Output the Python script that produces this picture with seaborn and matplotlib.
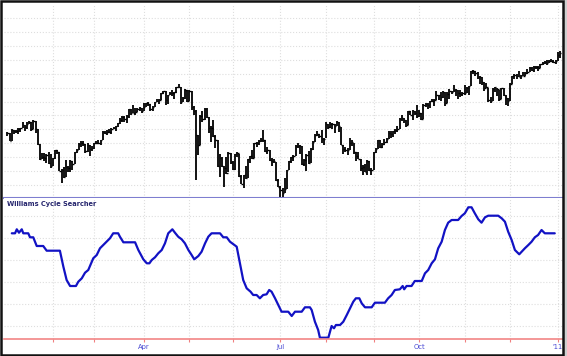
import pandas as pd
import numpy as np
import matplotlib
matplotlib.use("Agg")
import matplotlib.pyplot as plt
import seaborn as sns
from matplotlib.patches import Rectangle

sns.set_theme(style="white")
plt.rcParams['font.family'] = 'DejaVu Sans'

# trading calendar (NYSE holidays)
holidays = ['2010-01-01', '2010-01-18', '2010-02-15', '2010-04-02', '2010-05-31',
            '2010-07-05', '2010-09-06', '2010-11-25', '2010-12-24']
dates = pd.bdate_range('2009-12-30', '2011-01-04', freq='C', holidays=holidays)

high = [10560, 10550,
        # Jan
        10604, 10590, 10595, 10615, 10625, 10700, 10665, 10700, 10725, 10710, 10730, 10725, 10610, 10390, 10260, 10260, 10250, 10270, 10240,
        # Feb
        10190, 10310, 10300, 10270, 10030, 10060, 10160, 10080, 10160, 10140, 10275, 10320, 10400, 10430, 10430, 10390, 10400, 10370, 10360,
        # Mar
        10410, 10430, 10440, 10450, 10570, 10580, 10590, 10600, 10615, 10640, 10650, 10690, 10760, 10785, 10785, 10800, 10890, 10890, 10950, 10900, 10910, 10920, 10910,
        # Apr
        10975, 10980, 10990, 10970, 10940, 11000, 11030, 11030, 11125, 11150, 11150, 11100, 11130, 11160, 11140, 11210, 11258, 11210, 11070, 11180, 11170,
        # May
        11160, 11150, 10930, 10880, 10520, 10800, 10860, 10900, 10900, 10780, 10650, 10730, 10520, 10440, 10240, 10200, 10070, 10200, 10270, 10260,
        # Jun
        10140, 10250, 10280, 10250, 9950, 9950, 10070, 10180, 10215, 10300, 10410, 10420, 10450, 10470, 10590, 10450, 10340, 10300, 10190, 10180, 10130, 9890,
        # Jul
        9790, 9760, 9900, 10020, 10150, 10200, 10230, 10380, 10400, 10370, 10360, 10170, 10240, 10290, 10330, 10430, 10530, 10580, 10540, 10590, 10470,
        # Aug
        10700, 10680, 10700, 10690, 10680, 10720, 10700, 10640, 10380, 10340, 10330, 10470, 10450, 10410, 10270, 10280, 10170, 10090, 10100, 10160, 10150, 10050,
        # Sep
        10280, 10330, 10450, 10440, 10410, 10460, 10470, 10570, 10570, 10580, 10600, 10650, 10770, 10810, 10770, 10740, 10870, 10860, 10880, 10870, 10950,
        # Oct
        10880, 10830, 10960, 10980, 10980, 11010, 11030, 11040, 11150, 11100, 11130, 11150, 11140, 11130, 11180, 11150, 11240, 11180, 11170, 11160, 11130,
        # Nov
        11240, 11210, 11220, 11440, 11450, 11440, 11430, 11370, 11350, 11280, 11270, 11200, 11070, 11190, 11210, 11200, 11170, 11200, 11190, 11100, 11050,
        # Dec
        11270, 11370, 11390, 11390, 11440, 11380, 11420, 11420, 11460, 11500, 11500, 11510, 11510, 11510, 11540, 11570, 11580, 11590, 11590, 11610, 11590, 11590,
        # Jan '11
        11710, 11730]

low = [10500, 10428,
       10430, 10540, 10550, 10530, 10555, 10620, 10570, 10600, 10670, 10570, 10600, 10550, 10370, 10160, 10170, 10150, 10110, 10100, 10040,
       10070, 10180, 10240, 10000, 9835, 9900, 9910, 9980, 9990, 10010, 10100, 10260, 10300, 10350, 10360, 10260, 10280, 10210, 10290,
       10320, 10395, 10390, 10380, 10440, 10540, 10520, 10550, 10530, 10600, 10580, 10640, 10680, 10700, 10710, 10690, 10770, 10810, 10830, 10810, 10850, 10860, 10840,
       10860, 10920, 10930, 10860, 10860, 10920, 10990, 10970, 11020, 11110, 10950, 10970, 11090, 11080, 11040, 11120, 11190, 10970, 10990, 11040, 11000,
       11010, 10880, 10810, 9870, 10230, 10380, 10700, 10740, 10770, 10550, 10420, 10490, 10330, 10060, 9920, 10060, 9770, 9960, 9980, 10100,
       10010, 10020, 10200, 9920, 9810, 9760, 9880, 9900, 10110, 10180, 10190, 10350, 10380, 10420, 10420, 10280, 10250, 10140, 10080, 10110, 9860, 9770,
       9620, 9615, 9680, 9740, 10020, 10110, 10150, 10210, 10330, 10250, 10090, 10070, 10000, 10100, 10120, 10310, 10420, 10510, 10470, 10400, 10380,
       10470, 10600, 10620, 10610, 10550, 10650, 10560, 10370, 10240, 10280, 10230, 10300, 10360, 10240, 10150, 10170, 10000, 9940, 9980, 9940, 10000, 9940,
       10020, 10260, 10320, 10330, 10330, 10380, 10400, 10460, 10480, 10490, 10540, 10560, 10600, 10720, 10690, 10640, 10660, 10800, 10740, 10800, 10760,
       10780, 10730, 10750, 10920, 10890, 10910, 10990, 10940, 11020, 11020, 11010, 11050, 10930, 10980, 11040, 11110, 11130, 11080, 11040, 11060, 11080,
       11100, 11120, 11100, 11220, 11390, 11370, 11320, 11250, 11230, 11150, 11190, 11000, 10980, 11010, 11140, 11080, 11010, 11040, 11080, 10950, 10930,
       11010, 11250, 11320, 11330, 11350, 11320, 11360, 11360, 11400, 11420, 11440, 11430, 11470, 11440, 11480, 11530, 11540, 11520, 11550, 11570, 11550, 11540,
       11580, 11630]

close = [10548, 10428,
         10584, 10573, 10574, 10607, 10619, 10664, 10628, 10681, 10711, 10610, 10725, 10604, 10390, 10173, 10196, 10194, 10236, 10121, 10067,
         10185, 10297, 10271, 10003, 10013, 9908, 10058, 10038, 10144, 10099, 10268, 10309, 10393, 10403, 10383, 10283, 10375, 10321, 10325,
         10404, 10405, 10397, 10444, 10567, 10553, 10564, 10567, 10611, 10625, 10642, 10686, 10733, 10779, 10742, 10785, 10888, 10836, 10841, 10850, 10895, 10907, 10857,
         10927, 10974, 10970, 10898, 10928, 10998, 11006, 11019, 11123, 11145, 11019, 11092, 11118, 11125, 11134, 11205, 11205, 10992, 11045, 11168, 11009,
         11152, 10926, 10868, 10520, 10380, 10785, 10748, 10897, 10782, 10620, 10625, 10511, 10444, 10068, 10193, 10067, 10043, 9975, 10259, 10137,
         10025, 10250, 10256, 9932, 9816, 9940, 9899, 10173, 10212, 10191, 10405, 10410, 10435, 10450, 10443, 10294, 10299, 10153, 10144, 10139, 9870, 9774,
         9732, 9686, 9744, 10019, 10139, 10198, 10216, 10364, 10367, 10359, 10098, 10155, 10230, 10121, 10322, 10425, 10525, 10537, 10498, 10468, 10466,
         10674, 10636, 10680, 10675, 10654, 10699, 10644, 10379, 10320, 10303, 10302, 10406, 10416, 10271, 10214, 10174, 10040, 10060, 9986, 10151, 10010, 10015,
         10270, 10320, 10448, 10341, 10388, 10416, 10462, 10544, 10527, 10573, 10595, 10608, 10754, 10761, 10739, 10662, 10860, 10812, 10858, 10835, 10788,
         10830, 10752, 10945, 10968, 10948, 11006, 11011, 11021, 11097, 11095, 11063, 11143, 10978, 11108, 11147, 11133, 11164, 11170, 11126, 11114, 11118,
         11125, 11189, 11216, 11434, 11445, 11406, 11346, 11357, 11284, 11193, 11202, 11024, 11008, 11182, 11204, 11179, 11037, 11187, 11092, 11052, 11006,
         11256, 11362, 11382, 11362, 11359, 11372, 11370, 11410, 11428, 11477, 11457, 11499, 11492, 11478, 11534, 11559, 11573, 11555, 11575, 11585, 11570, 11578,
         11671, 11691]

# Williams Cycle Searcher, read as (bar position, value) vertices
cycle_pos = [2, 3.5, 4.3, 5.3, 6.6, 7.3, 9.6, 10.4, 11.9, 13.5, 16.5, 18.1, 24.2, 25.8, 27.3, 28.9, 31.6, 32.7, 34.3, 35.8,
             37.3, 39.6, 41.2, 42.7, 45, 47.3, 48.8, 51.1, 51.9, 53.5, 58.9, 60.4, 62.7, 64.3, 65.5, 66.6, 68.1, 69.6, 71.2, 72.7,
             74.2, 76.1, 77.3, 78.8, 80.4, 81.9, 83.5, 85, 86.2, 88.1, 89.6, 91.2, 92.7, 94.2, 98.1, 99.6, 101.2, 102.7, 105.8, 107.3,
             108.8, 110.4, 112.2, 113.4, 115, 116.5, 118, 119.6, 120.8, 121.9, 123.5, 125, 126.5, 128.1, 129.6, 131.2, 132.7, 135.8, 137.3, 139.6,
             140.4, 141.9, 143.4, 144.2, 148.1, 149.6, 150.7, 151.6, 153.5, 155, 156.6, 158.1, 159.6, 160.8, 162.4, 163.5, 165, 168.1, 169.6, 174.2,
             175.7, 177.3, 178.8, 181.1, 182.4, 183.1, 184.2, 186.5, 188, 191.2, 192.7, 194.2, 195.8, 197.3, 198.8, 200.4, 201.9, 203.4, 205, 208,
             209.6, 211.1, 212.7, 214.2, 215.7, 217.3, 218.8, 220.4, 221.9, 226.5, 228.1, 229.6, 231.1, 232.7, 234.2, 236.2, 237.3, 238.8, 240.4, 241.9,
             243.4, 244.9, 246.5, 248, 252.6]
cycle_val = [105.7, 105.7, 109.7, 106.3, 109.7, 105.7, 105.7, 101.7, 101.7, 93, 93, 88.3, 88.3, 72.3, 59, 53, 53, 57.3, 60.7, 66.3,
             69, 80.7, 84, 90.7, 95.7, 100.7, 105.7, 105.7, 102.3, 96.7, 96.7, 89, 79.7, 75.7, 75.7, 79, 81.7, 85.7, 89, 95.7,
             105.7, 109.7, 106.3, 102.3, 99.7, 95.7, 89, 84, 79.7, 83, 87.3, 95.7, 102.3, 105.7, 105.7, 101.7, 101.7, 97.3, 92.3, 75.7,
             59, 50.7, 47.3, 44, 44, 40.7, 44, 44.7, 49, 47.3, 40.7, 34, 27.3, 27.3, 27.3, 23, 27.3, 27.3, 31.7, 31.7,
             29, 17.3, 9, 1.3, 1.3, 13, 10.7, 14, 14, 17.3, 24, 30.7, 37.3, 40.7, 40.7, 35.7, 31.7, 31.7, 36.3, 36.3,
             40.7, 44, 49, 49.7, 53, 49.7, 53, 53, 58, 58, 65.7, 69, 75.7, 79.7, 90.7, 97.3, 109, 116.3, 119, 119,
             123, 125.7, 131.7, 131.7, 125.7, 119.7, 116.3, 121.7, 123.3, 123.3, 120.7, 117.3, 107.3, 99, 89, 84.7, 87.3, 90.7, 94, 97.3,
             101.7, 104, 109, 105.7, 105.7]

quarter_labels = {'2010-04': 'Apr', '2010-07': 'Jul', '2010-10': 'Oct', '2011-01': "'11"}

df = pd.DataFrame({'date': dates, 'high': high, 'low': low, 'close': close})
df['pos'] = np.arange(len(df))
cyc = pd.DataFrame({'pos': cycle_pos, 'value': cycle_val})

# first trading day of each month, from Feb 2010 on
month_start = df.groupby(df['date'].dt.to_period('M'))['pos'].first().iloc[2:]
tick_labels = [quarter_labels.get(str(p), '') for p in month_start.index]

W, H = 567, 356
fig = plt.figure(figsize=(W / 100, H / 100), dpi=100)
fig.patch.set_facecolor('white')
ax1 = fig.add_axes([4 / W, 158 / H, 559 / W, 193 / H])
ax2 = fig.add_axes([4 / W, 17 / H, 559 / W, 141 / H])

grid_kw = dict(color='#dedede', linestyle=':', linewidth=0.8)

# price bars
ax1.vlines(df['pos'], df['low'], df['high'], color='black', lw=1.3)
ax1.hlines(df['close'], df['pos'], df['pos'] + 0.7, color='black', lw=1.0)
ax1.set_xlim(-1.6, 256.4)
ax1.set_ylim(9613, 12387)
ax1.set_xticks(month_start.values)
ax1.set_yticks(range(9800, 12201, 200))
ax1.set_xticklabels([])
ax1.set_yticklabels([])
ax1.tick_params(length=0)
ax1.grid(True, **grid_kw)
ax1.set_axisbelow(True)
for s in ['top', 'left', 'right']:
    ax1.spines[s].set_visible(False)
ax1.spines['bottom'].set_color('#7e7ed0')
ax1.spines['bottom'].set_linewidth(1.5)

# cycle indicator
sns.lineplot(data=cyc, x='pos', y='value', ax=ax2, color='#1212c4', lw=1.6)
ax2.set_xlim(-1.6, 256.4)
ax2.set_ylim(0, 141)
ax2.set_xticks(month_start.values)
ax2.set_xticklabels(tick_labels)
ax2.set_yticks([13, 35, 57, 79, 101, 123])
ax2.set_yticklabels([])
ax2.set_xlabel('')
ax2.set_ylabel('')
ax2.grid(True, **grid_kw)
ax2.set_axisbelow(True)
ax2.tick_params(axis='y', length=0)
ax2.tick_params(axis='x', direction='out', length=2.5, width=0.8, color='#f08080',
                labelsize=4.9, labelcolor='#4646d2', pad=1.2, bottom=True)
for s in ['top', 'left', 'right']:
    ax2.spines[s].set_visible(False)
ax2.spines['bottom'].set_color('#f28585')
ax2.spines['bottom'].set_linewidth(1.2)
ax2.text(3 / 559, 0.957, 'Williams Cycle Searcher', transform=ax2.transAxes,
         fontsize=4.8, fontweight='bold', color='#26266e', va='center', ha='left')

# outer frame with a little shadow on the right
fig.patches.append(Rectangle((563.5 / W, 0), 3.5 / W, 1, transform=fig.transFigure,
                             facecolor='#cfcfcf', edgecolor='none'))
fig.patches.append(Rectangle((1 / W, 1.5 / H), 562 / W, 353.5 / H, transform=fig.transFigure,
                             fill=False, edgecolor='#111111', linewidth=1.8))

plt.savefig('out.png', dpi=100)
